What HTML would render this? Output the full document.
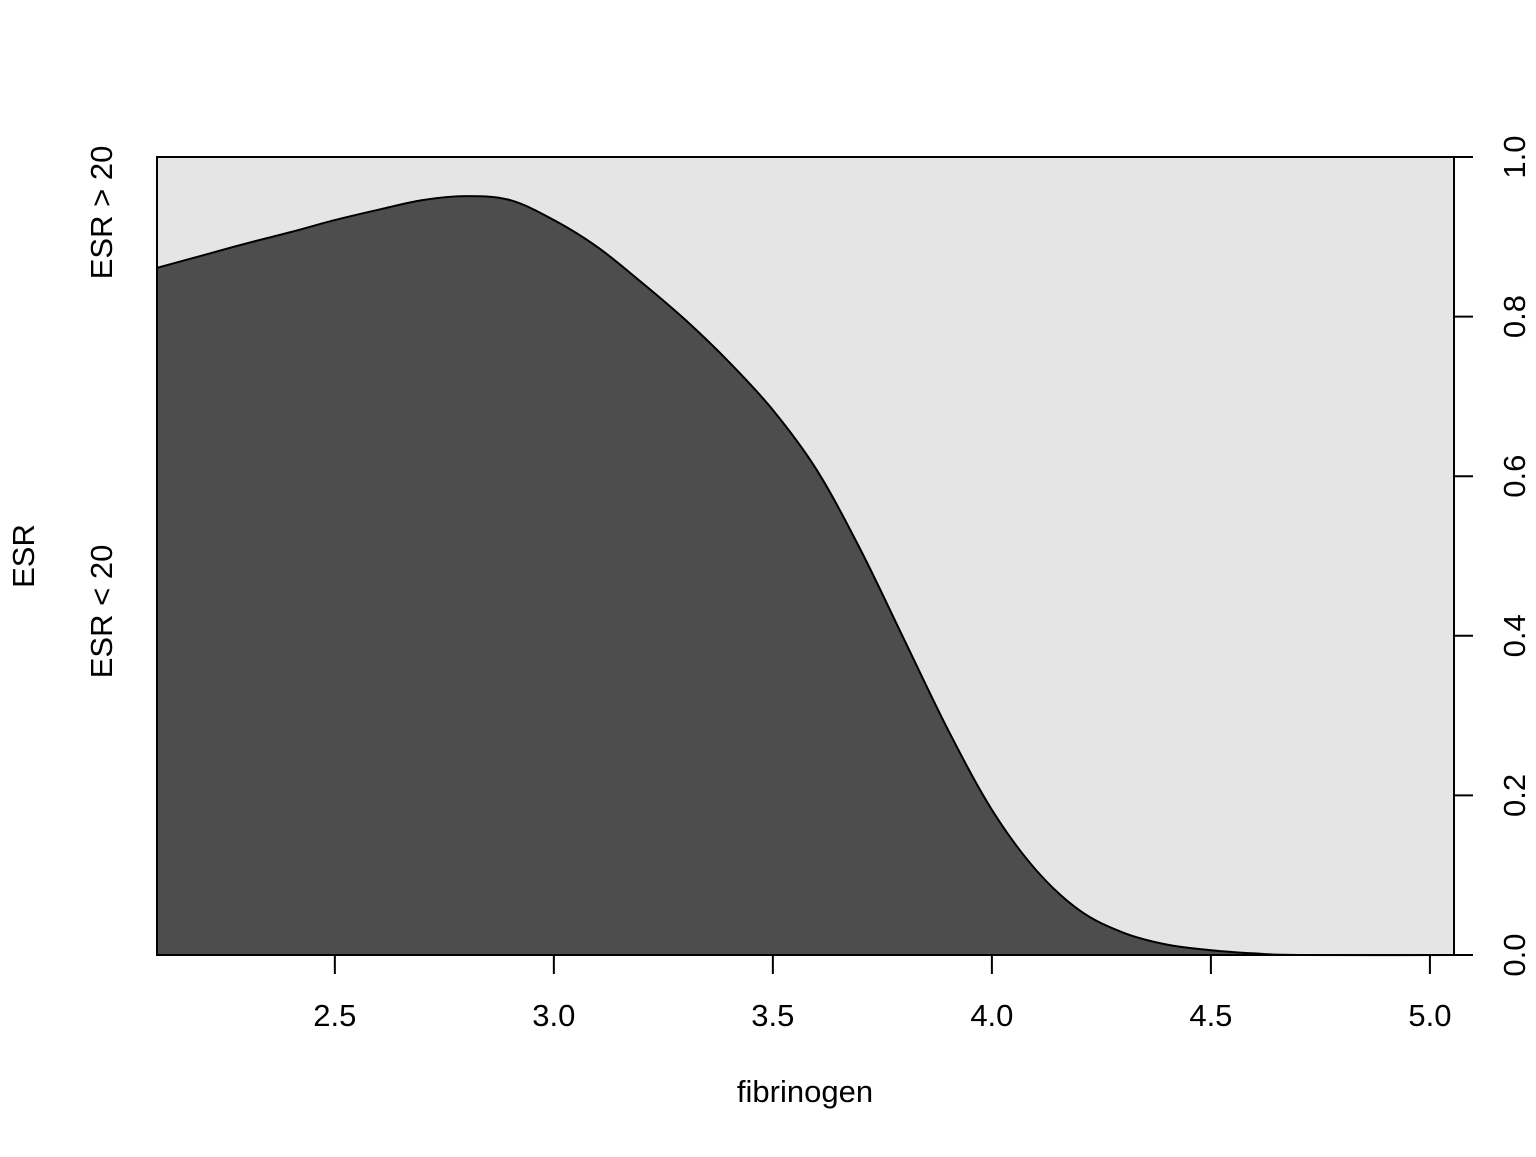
<!DOCTYPE html>
<html><head><meta charset="utf-8"><style>
html,body{margin:0;padding:0;background:#fff;}
text{font-family:"Liberation Sans",Arial,sans-serif;font-size:31px;fill:#000;}
</style></head><body>
<svg id="chart" width="1536" height="1152" viewBox="0 0 1536 1152" xmlns="http://www.w3.org/2000/svg">
<g id="plot"></g>
</svg>
<script>
const xs = [2.094,2.2,2.3,2.4,2.5,2.6,2.7,2.8,2.9,3.0,3.1,3.2,3.3,3.4,3.5,3.6,3.7,3.8,3.9,4.0,4.1,4.2,4.3,4.4,4.5,4.6,4.7,5.055];
const props = [0.861,0.877,0.892,0.906,0.921,0.934,0.946,0.951,0.946,0.921,0.887,0.843,0.796,0.743,0.683,0.608,0.508,0.395,0.282,0.182,0.107,0.056,0.028,0.013,0.006,0.002,0,0];
const xTicks = [2.5,3.0,3.5,4.0,4.5,5.0];
const xTickLabels = ["2.5","3.0","3.5","4.0","4.5","5.0"];
const yTicks = [0,0.2,0.4,0.6,0.8,1.0];
const yTickLabels = ["0.0","0.2","0.4","0.6","0.8","1.0"];
const categories = ["ESR < 20","ESR > 20"];

const L=157,R=1454,T=157,B=955;
const xMin=2.094,xMax=5.055;
const sx=v=>L+(v-xMin)/(xMax-xMin)*(R-L);
const sy=v=>B-v*(B-T);
const NS="http://www.w3.org/2000/svg";
const g=document.getElementById('plot');
function mk(tag,attrs){const e=document.createElementNS(NS,tag);for(const k in attrs)e.setAttribute(k,attrs[k]);g.appendChild(e);return e;}

let bg=mk('rect',{x:L,y:T,width:R-L,height:B-T,fill:'#e5e5e5'});



const pts=xs.map((x,i)=>[sx(x),sy(props[i])]);
let d=`M${L},${B} L${pts[0][0]},${pts[0][1]}`;
for(let i=0;i<pts.length-1;i++){
  const p0=pts[Math.max(0,i-1)],p1=pts[i],p2=pts[i+1],p3=pts[Math.min(pts.length-1,i+2)];
  const c1=[p1[0]+(p2[0]-p0[0])/6,p1[1]+(p2[1]-p0[1])/6];
  const c2=[p2[0]-(p3[0]-p1[0])/6,p2[1]-(p3[1]-p1[1])/6];
  d+=` C${c1[0]},${c1[1]} ${c2[0]},${c2[1]} ${p2[0]},${p2[1]}`;
}
d+=` L${R},${B} Z`;
let area=mk('path',{d:d,fill:'#4d4d4d',stroke:'#000','stroke-width':2});



let box=mk('rect',{x:L,y:T,width:R-L,height:B-T,fill:'none',stroke:'#000','stroke-width':2});



let xa=mk('line',{x1:sx(xTicks[0]),x2:sx(xTicks[xTicks.length-1]),y1:B,y2:B,stroke:'#000','stroke-width':2});


xTicks.forEach((v,i)=>{
  let t=mk('line',{x1:sx(v),x2:sx(v),y1:B,y2:B+19,stroke:'#000','stroke-width':2});
  
  
  let lb=mk('text',{x:sx(v),y:B+71,'text-anchor':'middle'});
  lb.textContent=xTickLabels[i];
  
  
});
let ya=mk('line',{x1:R,x2:R,y1:sy(0),y2:sy(1),stroke:'#000','stroke-width':2});


yTicks.forEach((v,i)=>{
  let t=mk('line',{x1:R,x2:R+19,y1:sy(v),y2:sy(v),stroke:'#000','stroke-width':2});
  
  
  let lb=mk('text',{x:1525,y:sy(v),'text-anchor':'middle',transform:`rotate(-90 1525 ${sy(v)})`});
  lb.textContent=yTickLabels[i];
  
  
});
const mids=[props[0]/2,(1+props[0])/2];
categories.forEach((c,i)=>{
  const y=sy(mids[i]);
  let lb=mk('text',{x:112,y:y,'text-anchor':'middle',transform:`rotate(-90 112 ${y})`});
  lb.textContent=c;
  
  
});
let yt=mk('text',{x:34,y:556,'text-anchor':'middle',transform:'rotate(-90 34 556)'});
yt.textContent='ESR';


let xt=mk('text',{x:805,y:1102,'text-anchor':'middle'});
xt.textContent='fibrinogen';


</script>
</body></html>
